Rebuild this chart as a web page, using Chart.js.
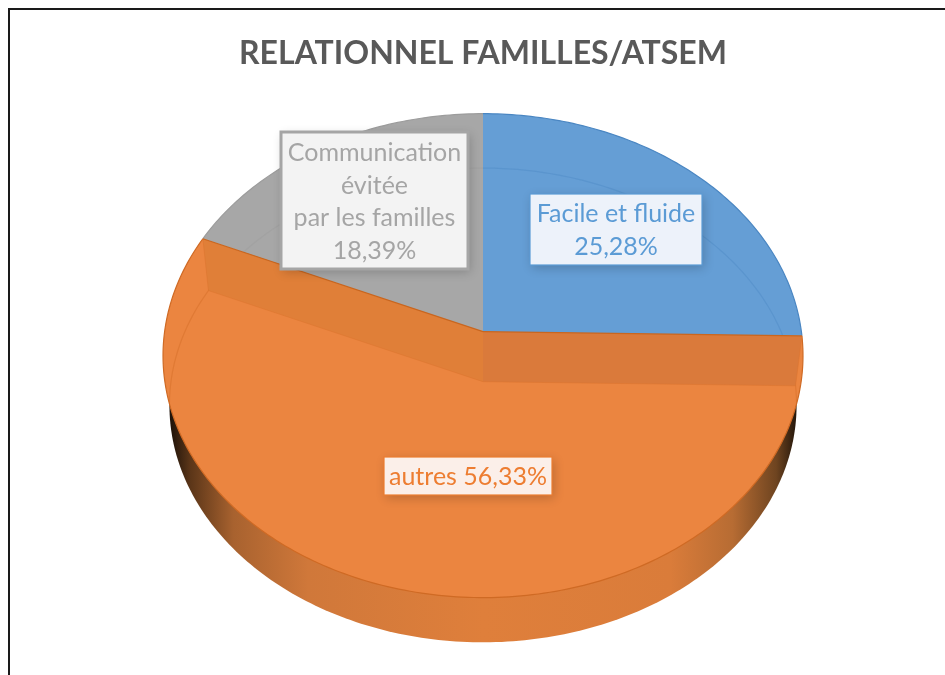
<!DOCTYPE html>
<html><head><meta charset="utf-8">
<style>html,body{margin:0;padding:0;background:#fff}canvas{display:block}</style>
<script src="https://cdn.jsdelivr.net/npm/chart.js@4"></script>
</head><body><canvas id="c" width="945" height="675"></canvas>
<script>
const categories = ['Facile et fluide', 'autres', 'Communication évitée par les familles'];
const values = [25.28, 56.33, 18.39];
const sliceColors = ['#659ed5', '#eb8540', '#a7a7a7'];
const sliceEdges = ['#4a86c2', '#cf6a24', '#9c9c9c'];
const chartTitle = 'RELATIONNEL FAMILLES/ATSEM';
const labelLinesFacile = ['Facile et fluide', '25,28%'];
const labelLinesAutres = ['autres 56,33%'];
const labelLinesComm = ['Communication', 'évitée', 'par les familles', '18,39%'];

// perspective of the tilted pie
const K = 0.099, FX = 1.3267, FY = 0.9983, BASE_SCALE = 0.98, DEPTH = 50;
function pt(arc, ang, scale, dy) {
  const X = Math.cos(ang), Y = Math.sin(ang), w = 1 - K * Y, R = arc.outerRadius * scale;
  return [arc.x + FX * R * X / w, arc.y + dy + FY * R * Y / w];
}
function rim(ctx, arc, a0, a1, scale, dy, move) {
  const n = Math.max(2, Math.ceil(Math.abs(a1 - a0) * 60));
  for (let i = 0; i <= n; i++) {
    const p = pt(arc, a0 + (a1 - a0) * i / n, scale, dy);
    if (i === 0 && move) ctx.moveTo(p[0], p[1]); else ctx.lineTo(p[0], p[1]);
  }
}
function wedge(ctx, arc) {
  ctx.beginPath();
  ctx.moveTo(arc.x, arc.y);
  rim(ctx, arc, arc.startAngle, arc.endAngle, 1, 0, false);
  ctx.closePath();
}
Chart.ArcElement.prototype.draw = function (ctx) {
  const o = this.options;
  ctx.save();
  wedge(ctx, this);
  ctx.fillStyle = o.backgroundColor;
  ctx.fill();
  ctx.clip();
  ctx.beginPath();
  rim(ctx, this, 0, Math.PI * 2, BASE_SCALE, DEPTH, true);
  ctx.closePath();
  ctx.strokeStyle = o.borderColor;
  ctx.globalAlpha = 0.4;
  ctx.lineWidth = 1.2;
  ctx.stroke();
  ctx.restore();
  ctx.save();
  ctx.beginPath();
  rim(ctx, this, this.startAngle, this.endAngle, 1, 0, true);
  ctx.strokeStyle = o.borderColor;
  ctx.lineWidth = 1.2;
  ctx.stroke();
  ctx.restore();
};

function band(ctx, arc, ang, fill) {
  const a = pt(arc, ang, 1, 0), b = pt(arc, ang, BASE_SCALE, DEPTH);
  ctx.beginPath();
  ctx.moveTo(arc.x, arc.y);
  ctx.lineTo(a[0], a[1]);
  ctx.lineTo(b[0], b[1]);
  ctx.lineTo(arc.x, arc.y + DEPTH);
  ctx.closePath();
  ctx.fillStyle = fill;
  ctx.fill();
  ctx.beginPath();
  ctx.moveTo(a[0], a[1]);
  ctx.lineTo(b[0], b[1]);
  ctx.lineTo(arc.x, arc.y + DEPTH);
  ctx.strokeStyle = 'rgba(220,115,45,0.5)';
  ctx.lineWidth = 1;
  ctx.stroke();
  ctx.beginPath();
  ctx.moveTo(arc.x, arc.y);
  ctx.lineTo(a[0], a[1]);
  ctx.strokeStyle = '#c9661f';
  ctx.lineWidth = 1.3;
  ctx.stroke();
}

const pie3d = {
  id: 'pie3d',
  beforeDraw(chart) {
    const ctx = chart.ctx;
    ctx.save();
    ctx.fillStyle = '#fff';
    ctx.fillRect(0, 0, chart.width, chart.height);
    ctx.fillStyle = '#1a1a1a';
    ctx.fillRect(8, 8, chart.width - 8, 2);
    ctx.fillRect(8, 8, 2, chart.height - 8);
    ctx.restore();
  },
  beforeDatasetsDraw(chart) {
    const ctx = chart.ctx, arc = chart.getDatasetMeta(0).data[0];
    const l = arc.x - FX * arc.outerRadius * BASE_SCALE, r = arc.x + FX * arc.outerRadius * BASE_SCALE;
    const g = ctx.createLinearGradient(l, 0, r, 0);
    g.addColorStop(0.00, '#20140a');
    g.addColorStop(0.03, '#5a3518');
    g.addColorStop(0.10, '#a8622f');
    g.addColorStop(0.22, '#d0783a');
    g.addColorStop(0.50, '#df7f3b');
    g.addColorStop(0.80, '#da7c3a');
    g.addColorStop(0.90, '#b76c33');
    g.addColorStop(0.97, '#6e4420');
    g.addColorStop(1.00, '#2a1a0c');
    ctx.save();
    ctx.beginPath();
    rim(ctx, arc, 0, Math.PI * 2, BASE_SCALE, DEPTH, true);
    ctx.closePath();
    ctx.fillStyle = g;
    ctx.fill();
    ctx.restore();
  },
  afterDatasetsDraw(chart, args, opts) {
    const ctx = chart.ctx, orange = chart.getDatasetMeta(0).data[1];
    ctx.save();
    band(ctx, orange, orange.startAngle, '#da7a3b');
    band(ctx, orange, orange.endAngle, '#e07f38');
    ctx.restore();
    opts.boxes.forEach(b => {
      ctx.save();
      ctx.shadowColor = 'rgba(0,0,0,0.2)';
      ctx.shadowBlur = 10;
      ctx.shadowOffsetX = 2;
      ctx.shadowOffsetY = 3;
      ctx.fillStyle = b.fill;
      ctx.fillRect(b.x, b.y, b.w, b.h);
      ctx.restore();
      ctx.save();
      ctx.strokeStyle = b.color;
      ctx.lineWidth = b.lw;
      ctx.strokeRect(b.x, b.y, b.w, b.h);
      ctx.fillStyle = b.color;
      ctx.font = opts.font;
      ctx.textAlign = 'center';
      ctx.textBaseline = 'middle';
      b.lines.forEach((t, i) => {
        ctx.fillText(t, b.x + b.w / 2, b.y + b.first + i * opts.lineHeight);
      });
      ctx.restore();
    });
  }
};

new Chart(document.getElementById('c'), {
  type: 'pie',
  data: {
    labels: categories,
    datasets: [{ data: values, backgroundColor: sliceColors, borderColor: sliceEdges, radius: 240 }]
  },
  options: {
    responsive: false,
    animation: false,
    layout: { padding: { left: 21, right: 0, top: 0, bottom: 94 } },
    plugins: {
      legend: { display: false },
      tooltip: { enabled: false },
      title: {
        display: true, text: chartTitle, color: '#595959',
        font: { family: 'Lato', size: 32, weight: 'bold' },
        padding: { top: 34, bottom: 10 }
      },
      pie3d: {
        font: '25px Lato',
        lineHeight: 32.5,
        boxes: [
          { x: 530, y: 194, w: 172, h: 71, color: '#5b9bd5', fill: '#edf2fa', lw: 1.2, first: 20, lines: labelLinesFacile },
          { x: 384, y: 457, w: 168, h: 38, color: '#ed7d31', fill: '#fbefe9', lw: 1.2, first: 20, lines: labelLinesAutres },
          { x: 281, y: 132, w: 187, h: 137, color: '#a5a5a5', fill: '#f3f3f3', lw: 3, first: 21, lines: labelLinesComm }
        ]
      }
    }
  },
  plugins: [pie3d]
});
</script></body></html>
